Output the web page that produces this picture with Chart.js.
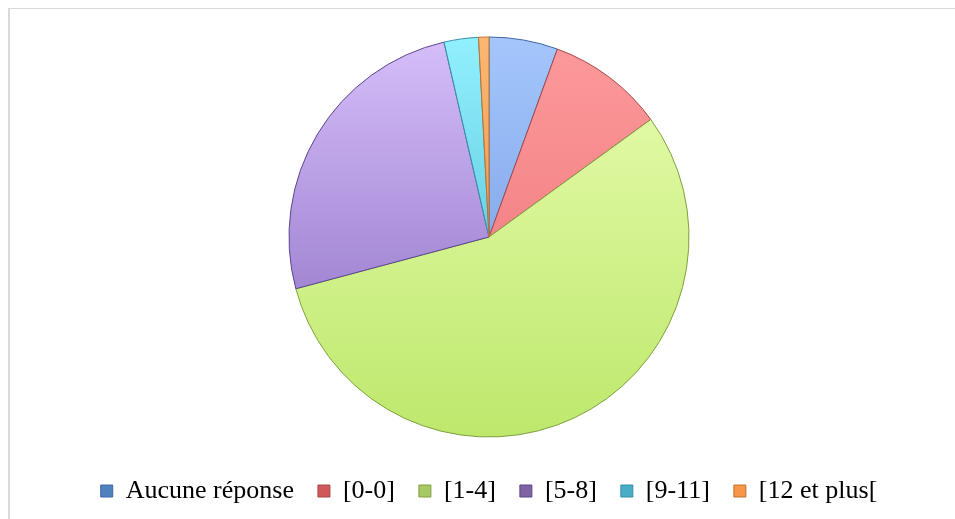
<!DOCTYPE html>
<html>
<head>
<meta charset="utf-8">
<script src="https://cdn.jsdelivr.net/npm/chart.js@4.4.0/dist/chart.umd.min.js"></script>
<style>
  body { margin: 0; background: #fff; }
  #wrap { position: relative; width: 955px; height: 519px; overflow: hidden; }
  #frame { position: absolute; left: 8px; top: 8px; width: 960px; height: 520px;
           border-top: 1px solid #d9d9d9; border-left: 2px solid #d9d9d9; }
  canvas { position: absolute; left: 0; top: 0; }
</style>
</head>
<body>
<div id="wrap">
  <div id="frame"></div>
  <canvas id="pie" width="955" height="519"></canvas>
</div>
<script>
// categories and counts
const labels = ["Aucune réponse", "[0-0]", "[1-4]", "[5-8]", "[9-11]", "[12 et plus["];
const values = [20, 34, 201, 92, 10, 3];

// light (top) / dark (bottom) shades for the bevelled look
const topColors = ["#a4c6fc", "#fd9a9c", "#eafdb2", "#d6befa", "#92f0fd", "#fbb872"];
const bottomColors = ["#6a92dc", "#ea6e72", "#bde86c", "#8466bc", "#40b2cc", "#dc8236"];
const edgeColors = ["#3f66a8", "#a84848", "#7fa040", "#5a4690", "#3290a8", "#c07030"];
const legendColors = ["#4f81bd", "#d0585a", "#a6c964", "#8064a2", "#4bacc6", "#f79646"];

const shade = (ctx) => {
  const chart = ctx.chart;
  const i = ctx.dataIndex;
  const area = chart.chartArea;
  if (!area) return topColors[i];
  const cy = (area.top + area.bottom) / 2;
  const g = chart.ctx.createLinearGradient(0, cy - 200, 0, cy + 200);
  g.addColorStop(0, topColors[i]);
  g.addColorStop(1, bottomColors[i]);
  return g;
};

new Chart(document.getElementById("pie"), {
  type: "pie",
  data: {
    labels: labels,
    datasets: [{
      data: values,
      backgroundColor: shade,
      borderColor: edgeColors,
      borderWidth: 1,
    }],
  },
  options: {
    responsive: false,
    animation: false,
    radius: 200,
    layout: { padding: { top: 20, bottom: 5, left: 40, right: 17 } },
    plugins: {
      tooltip: { enabled: false },
      legend: {
        position: "bottom",
        labels: {
          boxWidth: 12,
          boxHeight: 12,
          padding: 24,
          color: "#000",
          font: { family: "'Liberation Serif', 'Times New Roman', serif", size: 26 },
          generateLabels: (chart) => labels.map((l, i) => ({
            text: l,
            fillStyle: legendColors[i],
            strokeStyle: edgeColors[i],
            lineWidth: 1,
            index: i,
            hidden: false,
          })),
        },
      },
    },
  },
});
</script>
</body>
</html>
